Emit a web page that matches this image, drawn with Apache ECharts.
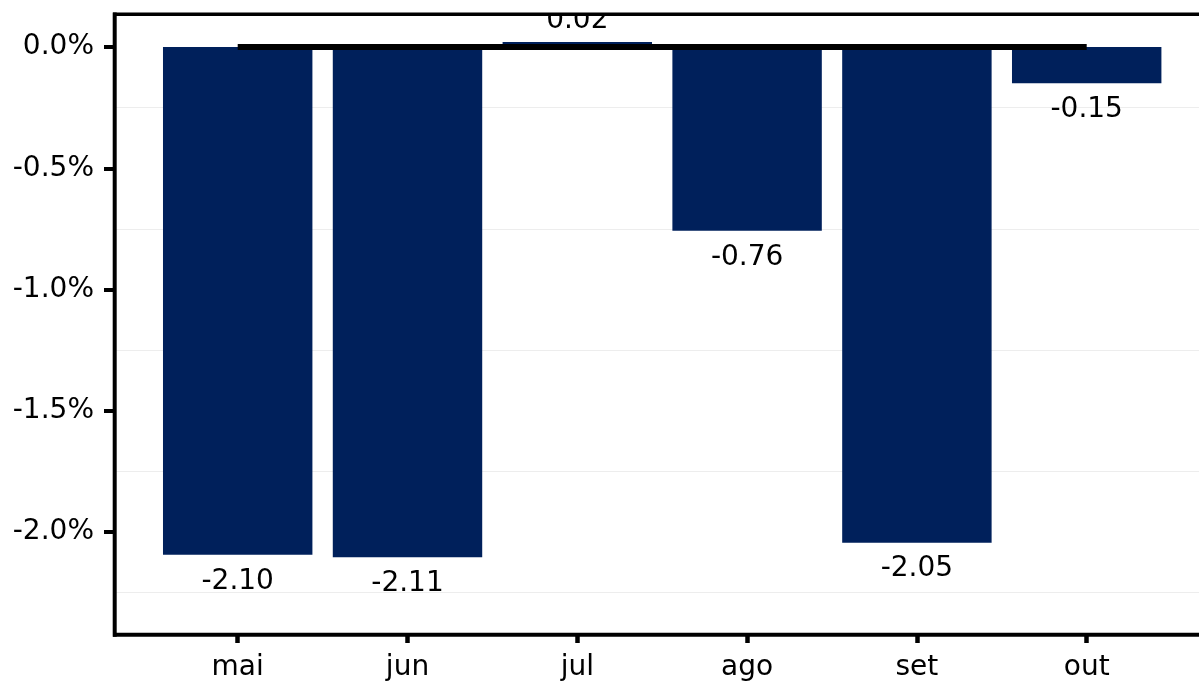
<!DOCTYPE html>
<html>
<head>
<meta charset="utf-8">
<script src="https://cdn.jsdelivr.net/npm/echarts@6/dist/echarts.min.js"></script>
<style>
  html, body { margin: 0; padding: 0; background: #fff; }
  #chart { width: 1199px; height: 682px; }
</style>
</head>
<body>
<div id="chart"></div>
<script>
// Monthly change, in %
const months = ['mai', 'jun', 'jul', 'ago', 'set', 'out'];
const changes = [-2.10, -2.11, 0.02, -0.76, -2.05, -0.15];
// Zero reference line drawn across the bars
const zeroLine = [0, 0, 0, 0, 0, 0];
// Axis ticks (labelled) and faint in-between grid lines
const yTicks = [0, -0.5, -1.0, -1.5, -2.0];
const yGrid = [-0.25, -0.75, -1.25, -1.75, -2.25];

const Y_MIN = -2.4235;
const Y_MAX = 0.135;
const FONT = 'DejaVu Sans';
const FONT_SIZE = 28;
const NAVY = '#00205B';

const W = 1199, H = 682;
const TOP = 14.3;
const BOTTOM = H - 634.7;
const LEFT = 115;

const chart = echarts.init(document.getElementById('chart'), null, { renderer: 'canvas' });

chart.setOption({
  animation: false,
  backgroundColor: '#ffffff',
  grid: [
    // panel: y axis and grid lines
    { left: LEFT, top: TOP, right: -15, bottom: BOTTOM, show: false },
    // bar area: six equal category bands
    { left: 152.8, top: TOP, width: 1018.8, bottom: BOTTOM, show: false }
  ],
  xAxis: [
    { gridIndex: 0, type: 'value', show: false, min: 0, max: 1 },
    {
      gridIndex: 1,
      type: 'category',
      position: 'bottom',
      data: months,
      axisLine: { show: false, onZero: false },
      axisTick: { show: true, alignWithLabel: true, length: 10, lineStyle: { color: '#000', width: 4.5 } },
      axisLabel: { fontFamily: FONT, fontSize: FONT_SIZE, color: '#000', margin: 21 }
    }
  ],
  yAxis: [
    {
      gridIndex: 0,
      type: 'value',
      min: Y_MIN,
      max: Y_MAX,
      axisLine: { show: false },
      axisTick: { show: true, customValues: yTicks, length: 11, lineStyle: { color: '#000', width: 4 } },
      axisLabel: {
        customValues: yTicks,
        fontFamily: FONT, fontSize: FONT_SIZE, color: '#000', margin: 21,
        formatter: v => v.toFixed(1) + '%'
      },
      splitLine: { show: false }
    },
    {
      gridIndex: 0,
      type: 'value',
      min: Y_MIN,
      max: Y_MAX,
      axisLine: { show: false },
      axisLabel: { show: false, customValues: yGrid },
      axisTick: { show: false, customValues: yGrid },
      splitLine: { show: true, lineStyle: { color: '#ededed', width: 1 } }
    },
    { gridIndex: 1, type: 'value', min: Y_MIN, max: Y_MAX, show: false, splitLine: { show: false } }
  ],
  series: [
    {
      type: 'bar',
      xAxisIndex: 1,
      yAxisIndex: 2,
      barWidth: '88%',
      itemStyle: { color: NAVY },
      data: changes.map(v => ({
        value: v,
        label: v < 0 ? { position: 'bottom', distance: 12.5 } : { position: 'top', distance: 7.5 }
      })),
      label: {
        show: true,
        fontFamily: FONT,
        fontSize: FONT_SIZE,
        color: '#000',
        formatter: p => p.value.toFixed(2)
      },
      z: 2
    },
    {
      type: 'line',
      xAxisIndex: 1,
      yAxisIndex: 2,
      data: zeroLine,
      symbol: 'none',
      lineStyle: { color: '#000', width: 6, cap: 'butt' },
      z: 5
    }
  ],
  graphic: [
    // blank margin above the panel (clips text that runs past the top edge)
    { type: 'rect', z: 100, shape: { x: 0, y: 0, width: W, height: TOP }, style: { fill: '#fff' } },
    // panel frame
    { type: 'line', z: 101, shape: { x1: LEFT - 2, y1: TOP, x2: W, y2: TOP }, style: { stroke: '#000', lineWidth: 3.5 } },
    { type: 'line', z: 101, shape: { x1: LEFT - 0.3, y1: TOP - 1.7, x2: LEFT - 0.3, y2: H - BOTTOM + 2 }, style: { stroke: '#000', lineWidth: 4 } },
    { type: 'line', z: 101, shape: { x1: LEFT - 2, y1: H - BOTTOM, x2: W, y2: H - BOTTOM }, style: { stroke: '#000', lineWidth: 4 } }
  ]
});
</script>
</body>
</html>
